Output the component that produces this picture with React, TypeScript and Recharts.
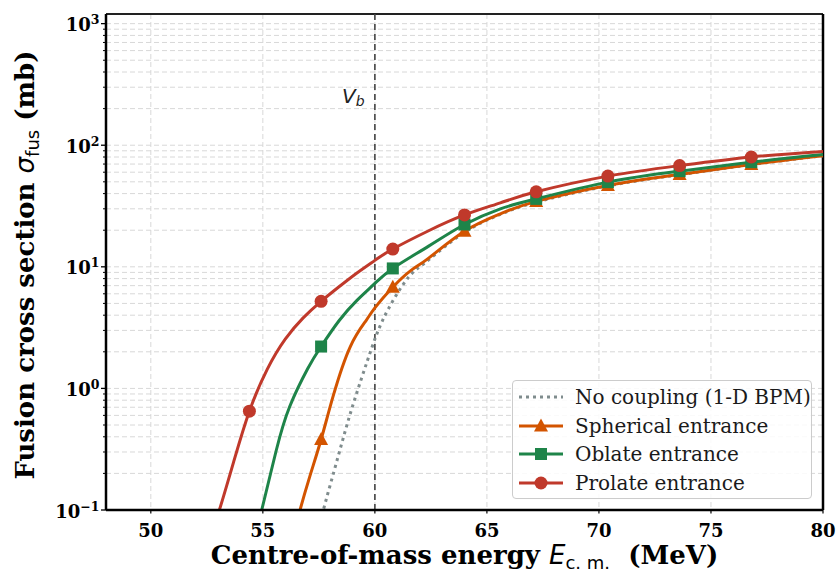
import React from 'react';
import { LineChart, Line, XAxis, YAxis, CartesianGrid, ReferenceLine, Legend, Label } from 'recharts';

// ---------- data ----------
const markerEnergies = [54.4, 57.6, 60.8, 64.0, 67.2, 70.4, 73.6, 76.8];

const noCouplingE = [57.5, 57.7, 58.37, 58.89, 59.41, 59.86, 60.15, 60.6, 61.34, 61.87, 62.4, 64.0, 65.6, 67.2, 70.4, 73.6, 76.8, 80.0];
const noCouplingS = [0.07, 0.1, 0.28, 0.61, 1.22, 2.15, 3.0, 4.5, 7.5, 9.6, 11.4, 19.2, 27.0, 34.0, 46.3, 57.2, 69.2, 82.0];

const sphericalE = [56.4, 56.66, 57.1, 57.6, 58.15, 58.9, 59.6, 60.0, 60.8, 61.6, 62.4, 64.0, 65.6, 67.2, 70.4, 73.6, 76.8, 80.0];
const sphericalS = [0.065, 0.1, 0.19, 0.38, 0.88, 2.2, 3.6, 4.6, 6.8, 9.3, 11.8, 19.6, 27.3, 34.5, 46.7, 57.5, 69.5, 82.0];

const oblateE = [54.7, 54.95, 55.6, 56.2, 57.0, 57.6, 58.4, 59.2, 60.0, 60.8, 62.4, 64.0, 65.6, 67.2, 70.4, 73.6, 76.8, 80.0];
const oblateS = [0.07, 0.1, 0.31, 0.71, 1.45, 2.21, 3.6, 5.3, 7.3, 9.7, 14.8, 22.3, 30.0, 36.2, 49.7, 61.2, 72.6, 84.0];

const prolateE = [52.7, 53.06, 53.7, 54.4, 55.2, 56.0, 56.8, 57.6, 58.4, 59.2, 60.0, 60.8, 62.4, 64.0, 65.6, 67.2, 70.4, 73.6, 76.8, 80.0];
const prolateS = [0.065, 0.1, 0.25, 0.65, 1.44, 2.54, 3.8, 5.2, 6.85, 8.9, 11.3, 14.0, 19.8, 26.7, 33.6, 41.4, 55.7, 68.0, 80.0, 89.0];

const xTicks = [50, 55, 60, 65, 70, 75, 80];
const yMajorTicks = [0.1, 1, 10, 100, 1000];
const yTickExponents = ['\u22121', '0', '1', '2', '3'];
const yMinorTicks = [
  0.2, 0.3, 0.4, 0.5, 0.6, 0.7, 0.8, 0.9,
  2, 3, 4, 5, 6, 7, 8, 9,
  20, 30, 40, 50, 60, 70, 80, 90,
  200, 300, 400, 500, 600, 700, 800, 900,
];
const barrierEnergy = 60;

const legendLabels = ['No coupling (1-D BPM)', 'Spherical entrance', 'Oblate entrance', 'Prolate entrance'];

// ---------- styling ----------
const C_GRAY = '#7f8c8d';
const C_ORANGE = '#d35400';
const C_GREEN = '#1e8449';
const C_RED = '#c0392b';
const SERIF = '"DejaVu Serif", serif';
const SANS = '"DejaVu Sans", sans-serif';

const build = (es: number[], ss: number[]) => es.map((e, i) => ({ e, s: ss[i] }));
const noCoupling = build(noCouplingE, noCouplingS);
const spherical = build(sphericalE, sphericalS);
const oblate = build(oblateE, oblateS);
const prolate = build(prolateE, prolateS);

const isMarker = (e: number) => markerEnergies.some((m) => Math.abs(m - e) < 1e-6);

type Shape = 'triangle' | 'square' | 'circle' | null;

const MarkerShape = ({ cx, cy, shape, color }: { cx: number; cy: number; shape: Shape; color: string }) => {
  if (shape === 'circle') return <circle cx={cx} cy={cy} r={6.5} fill={color} />;
  if (shape === 'square') return <rect x={cx - 6} y={cy - 6} width={12} height={12} fill={color} />;
  if (shape === 'triangle')
    return <polygon points={`${cx},${cy - 7.5} ${cx - 7},${cy + 5.5} ${cx + 7},${cy + 5.5}`} fill={color} />;
  return null;
};

const makeDot = (shape: Shape, color: string) => (props: any) => {
  const { cx, cy, payload, index } = props;
  if (!payload || !isMarker(payload.e) || cx == null || cy == null) return <g key={`d${index}`} />;
  return (
    <g key={`d${index}`}>
      <MarkerShape cx={cx} cy={cy} shape={shape} color={color} />
    </g>
  );
};

const YTick = (props: any) => {
  const { x, y, payload } = props;
  const v = payload.value;
  const idx = yMajorTicks.findIndex((t) => Math.abs(t - v) / t < 1e-6);
  const major = idx >= 0;
  return (
    <g>
      <line x1={x - (major ? 5 : 3)} x2={x} y1={y} y2={y} stroke="#000" strokeWidth={major ? 1.3 : 1} />
      {major && (
        <text x={x - 6.5} y={y + 7.5} textAnchor="end" fontFamily={SERIF} fontWeight="bold" fontSize={18} fill="#000">
          10
          <tspan dy={-7} fontSize={12.5}>
            {yTickExponents[idx]}
          </tspan>
        </text>
      )}
    </g>
  );
};

const XTick = (props: any) => {
  const { x, y, payload } = props;
  return (
    <g>
      <line x1={x} x2={x} y1={y} y2={y + 3.5} stroke="#000" strokeWidth={1.2} />
      <text x={x} y={y + 27} textAnchor="middle" fontFamily={SERIF} fontWeight="bold" fontSize={18} fill="#000">
        {payload.value}
      </text>
    </g>
  );
};

const XAxisLabel = () => (
  <text x={464.5} y={564} textAnchor="middle" fontFamily={SERIF} fontWeight="bold" fontSize={26} fill="#000">
    Centre-of-mass energy{' '}
    <tspan fontFamily={SANS} fontStyle="italic" fontWeight="normal">E</tspan>
    <tspan fontFamily={SANS} fontWeight="normal" fontSize={18} dy={4.5}>c. m.</tspan>
    <tspan dy={-4.5}>{'\u00a0 (MeV)'}</tspan>
  </text>
);

const YAxisLabel = () => (
  <text
    transform="rotate(-90)"
    x={-265}
    y={34}
    textAnchor="middle"
    fontFamily={SERIF}
    fontWeight="bold"
    fontSize={26}
    fill="#000"
  >
    Fusion cross section{' '}
    <tspan fontFamily={SANS} fontStyle="italic" fontWeight="normal">{'\u03c3'}</tspan>
    <tspan fontFamily={SANS} fontWeight="normal" fontSize={18} dy={4.5}>fus</tspan>
    <tspan dy={-4.5}>{' (mb)'}</tspan>
  </text>
);

const VbLabel = () => (
  <text x={342} y={103} fontFamily={SANS} fontStyle="italic" fontSize={20} fill="#222">
    V<tspan fontSize={14} dy={3}>b</tspan>
  </text>
);

const legendSpec: { color: string; shape: Shape; dash?: string }[] = [
  { color: C_GRAY, shape: null, dash: '3 4' },
  { color: C_ORANGE, shape: 'triangle' },
  { color: C_GREEN, shape: 'square' },
  { color: C_RED, shape: 'circle' },
];

const LegendBox = () => (
  <div
    style={{
      position: 'absolute',
      left: 512,
      top: 380,
      width: 300,
      height: 119,
      border: '1px solid #cccccc',
      borderRadius: 4,
      background: 'rgba(255,255,255,0.85)',
      boxSizing: 'border-box',
    }}
  >
    {legendSpec.map((it, i) => {
      const cy = 16 + i * 28.7;
      return (
        <div key={i} style={{ position: 'absolute', left: 0, top: cy - 14, height: 28, width: 298 }}>
          <svg width={56} height={28} style={{ position: 'absolute', left: 0, top: 0 }}>
            <line x1={6} x2={50} y1={14} y2={14} stroke={it.color} strokeWidth={3} strokeDasharray={it.dash} />
            <MarkerShape cx={28} cy={14} shape={it.shape} color={it.color} />
          </svg>
          <span
            style={{
              position: 'absolute',
              left: 62,
              top: 0,
              lineHeight: '28px',
              fontFamily: SERIF,
              fontSize: 20,
              color: '#1a1a1a',
              whiteSpace: 'nowrap',
            }}
          >
            {legendLabels[i]}
          </span>
        </div>
      );
    })}
  </div>
);

export default function App() {
  return (
    <div style={{ position: 'absolute', left: 0, top: 0, width: 839, height: 571, background: '#fff' }}>
      <LineChart width={839} height={571} margin={{ top: 14, right: 16, bottom: 0, left: 0 }}>
        <CartesianGrid stroke="#d8d8d8" strokeDasharray="5 3" strokeWidth={1} />
        <XAxis
          type="number"
          dataKey="e"
          domain={[48, 80]}
          ticks={xTicks}
          allowDataOverflow
          height={61}
          tickSize={0}
          tickMargin={0}
          tickLine={false}
          tick={<XTick />}
          axisLine={{ stroke: '#000', strokeWidth: 2.5 }}
        >
          <Label content={<XAxisLabel />} />
        </XAxis>
        <YAxis
          type="number"
          scale="log"
          domain={[0.1, 1200]}
          ticks={[...yMajorTicks, ...yMinorTicks]}
          allowDataOverflow
          width={106}
          tickSize={0}
          tickMargin={0}
          tickLine={false}
          tick={<YTick />}
          interval={0}
          axisLine={{ stroke: '#000', strokeWidth: 2.5 }}
        >
          <Label content={<YAxisLabel />} />
        </YAxis>
        <ReferenceLine y={1200} stroke="#222" strokeWidth={2} ifOverflow="visible" />
        <ReferenceLine x={80} stroke="#000" strokeWidth={2.5} ifOverflow="visible" />
        <ReferenceLine
          x={barrierEnergy}
          stroke="#444"
          strokeWidth={1.6}
          strokeDasharray="6 4"
          label={<VbLabel />}
        />
        <Line
          data={noCoupling}
          dataKey="s"
          type="natural"
          stroke={C_GRAY}
          strokeWidth={3}
          strokeDasharray="3 4"
          dot={false}
          activeDot={false}
          isAnimationActive={false}
          name={legendLabels[0]}
        />
        <Line
          data={spherical}
          dataKey="s"
          type="natural"
          stroke={C_ORANGE}
          strokeWidth={3}
          dot={makeDot('triangle', C_ORANGE)}
          activeDot={false}
          isAnimationActive={false}
          name={legendLabels[1]}
        />
        <Line
          data={oblate}
          dataKey="s"
          type="natural"
          stroke={C_GREEN}
          strokeWidth={3}
          dot={makeDot('square', C_GREEN)}
          activeDot={false}
          isAnimationActive={false}
          name={legendLabels[2]}
        />
        <Line
          data={prolate}
          dataKey="s"
          type="natural"
          stroke={C_RED}
          strokeWidth={3}
          dot={makeDot('circle', C_RED)}
          activeDot={false}
          isAnimationActive={false}
          name={legendLabels[3]}
        />
        <Legend
          layout="vertical"
          align="center"
          verticalAlign="middle"
          wrapperStyle={{ position: 'absolute', left: 0, top: 0, width: 0, height: 0 }}
          content={() => <LegendBox />}
        />
      </LineChart>
    </div>
  );
}
